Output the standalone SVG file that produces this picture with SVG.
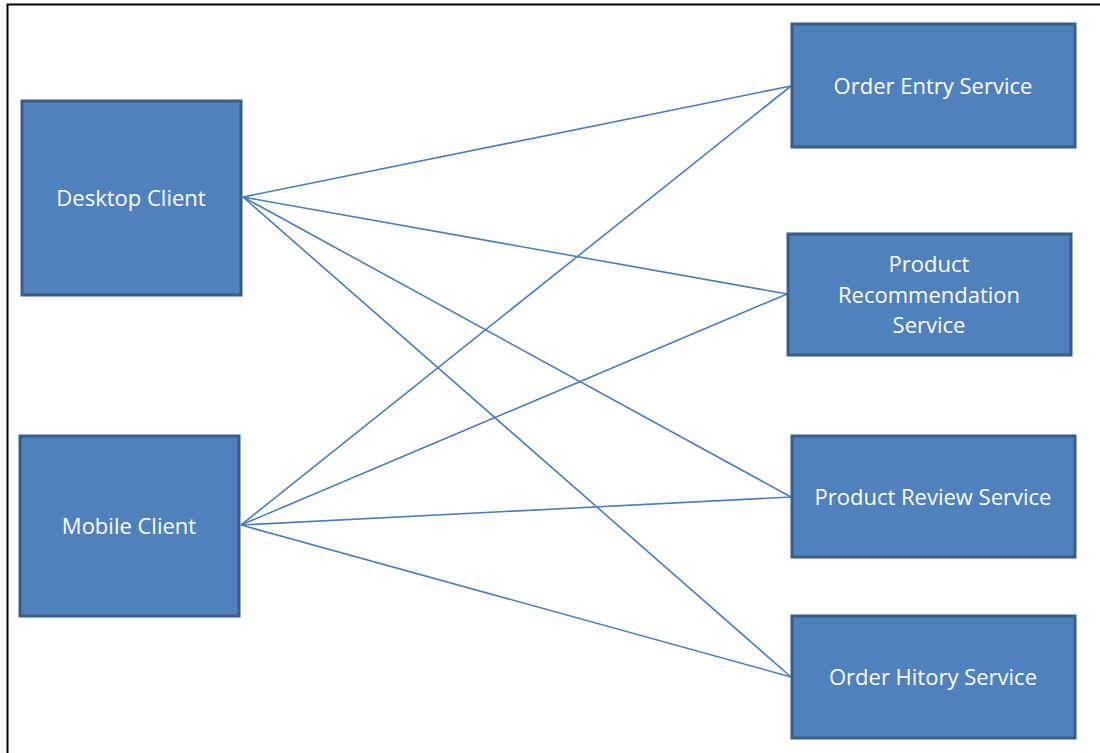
<svg xmlns="http://www.w3.org/2000/svg" width="1100" height="753" viewBox="0 0 1100 753">
  <style>
    .box { fill: #4f81bd; stroke: #385d8a; stroke-width: 3; }
    .lbl { fill: #ffffff; font-family: "Open Sans", "Liberation Sans", sans-serif; font-size: 22px; text-anchor: middle; }
    .link { stroke: #4a7ebb; stroke-width: 1.6; fill: none; }
  </style>
  <rect x="0" y="0" width="1100" height="753" fill="#ffffff"/>
  <!-- page frame -->
  <rect x="7.5" y="4.5" width="1110" height="770" fill="none" stroke="#000000" stroke-width="2"/>

  <g id="connectors">
    <line class="link" x1="243" y1="197" x2="791" y2="86"/>
    <line class="link" x1="243" y1="197" x2="787" y2="294"/>
    <line class="link" x1="243" y1="197" x2="791" y2="497"/>
    <line class="link" x1="243" y1="197" x2="791" y2="677"/>
    <line class="link" x1="241" y1="525" x2="791" y2="86"/>
    <line class="link" x1="241" y1="525" x2="787" y2="294"/>
    <line class="link" x1="241" y1="525" x2="791" y2="497"/>
    <line class="link" x1="241" y1="525" x2="791" y2="677"/>
  </g>

  <g id="desktop-client">
    <rect class="box" x="22" y="101" width="219" height="194"/>
    <text class="lbl" x="131" y="206">Desktop Client</text>
  </g>
  <g id="mobile-client">
    <rect class="box" x="20" y="436" width="219" height="180"/>
    <text class="lbl" x="129" y="534">Mobile Client</text>
  </g>
  <g id="order-entry-service">
    <rect class="box" x="792" y="24" width="283" height="123"/>
    <text class="lbl" x="933" y="94">Order Entry Service</text>
  </g>
  <g id="product-recommendation-service">
    <rect class="box" x="788" y="234" width="283" height="121"/>
    <text class="lbl" x="929" y="272">Product</text>
    <text class="lbl" x="929" y="303">Recommendation</text>
    <text class="lbl" x="929" y="333">Service</text>
  </g>
  <g id="product-review-service">
    <rect class="box" x="792" y="436" width="283" height="121"/>
    <text class="lbl" x="933" y="505">Product Review Service</text>
  </g>
  <g id="order-history-service">
    <rect class="box" x="792" y="616" width="283" height="122"/>
    <text class="lbl" x="933" y="685">Order Hitory Service</text>
  </g>
</svg>
